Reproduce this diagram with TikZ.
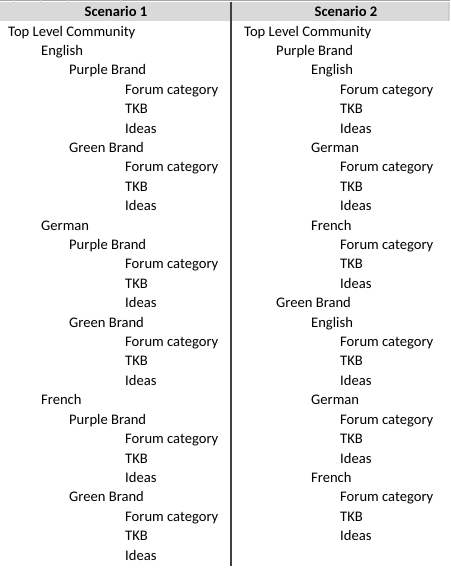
\documentclass[tikz,border=0pt]{standalone}
\usepackage{fontspec}
\setmainfont{Carlito}
\definecolor{hdrgray}{HTML}{D9D9D9}
\definecolor{topline}{HTML}{A6A6A6}
\definecolor{divider}{HTML}{404040}
\begin{document}
\begin{tikzpicture}[x=1pt,y=-1pt,
  cell/.style={anchor=base west,inner sep=0pt,font=\fontsize{14.6}{16}\selectfont},
  hdr/.style={anchor=base,inner sep=0pt,font=\fontsize{14.6}{16}\selectfont\bfseries}]
\useasboundingbox (0,0) rectangle (450,573);
\fill[hdrgray] (0,2) rectangle (450,20.5);
\draw[topline,line width=1pt] (0,0.7) -- (450,0.7);
\foreach \xx in {13,40,67,120} \draw[topline!50,line width=0.6pt] (\xx,0) -- (\xx,2);
\draw[topline!60,line width=0.6pt] (448.5,2) -- (448.5,20.5);
\node[hdr] (h1) at (116,16) {Scenario 1};
\node[hdr] (h2) at (346,16) {Scenario 2};
\coordinate (dtop) at (230.5,2);
\coordinate (dbot) at (230.5,566);
\draw[divider,line width=2pt] (dtop) -- (dbot);
% Scenario 1
\foreach \i/\l/\t in {
 0/8/Top Level Community, 1/41/English, 2/69/Purple Brand,
 3/125/Forum category, 4/125/TKB, 5/125/Ideas,
 6/69/Green Brand, 7/125/Forum category, 8/125/TKB, 9/125/Ideas,
 10/41/German, 11/69/Purple Brand,
 12/125/Forum category, 13/125/TKB, 14/125/Ideas,
 15/69/Green Brand, 16/125/Forum category, 17/125/TKB, 18/125/Ideas,
 19/41/French, 20/69/Purple Brand,
 21/125/Forum category, 22/125/TKB, 23/125/Ideas,
 24/69/Green Brand, 25/125/Forum category, 26/125/TKB, 27/125/Ideas}
 \node[cell] (a\i) at (\l,36+19.41*\i) {\t};
% Scenario 2
\foreach \i/\l/\t in {
 0/244/Top Level Community, 1/276/Purple Brand, 2/311/English,
 3/340/Forum category, 4/340/TKB, 5/340/Ideas,
 6/311/German, 7/340/Forum category, 8/340/TKB, 9/340/Ideas,
 10/311/French, 11/340/Forum category, 12/340/TKB, 13/340/Ideas,
 14/276/Green Brand, 15/311/English,
 16/340/Forum category, 17/340/TKB, 18/340/Ideas,
 19/311/German, 20/340/Forum category, 21/340/TKB, 22/340/Ideas,
 23/311/French, 24/340/Forum category, 25/340/TKB, 26/340/Ideas}
 \node[cell] (b\i) at (\l,36+19.41*\i) {\t};
\end{tikzpicture}
\end{document}
